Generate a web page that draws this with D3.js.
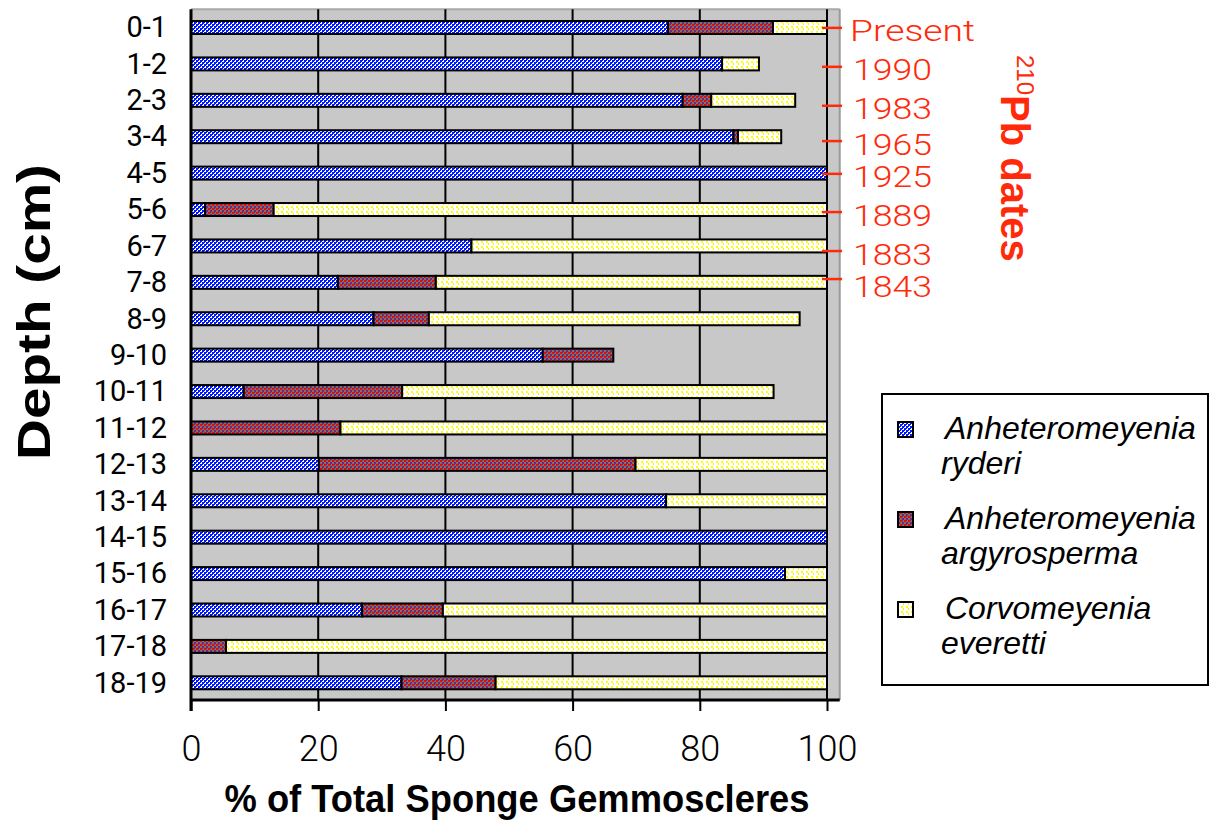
<!DOCTYPE html>
<html>
<head>
<meta charset="utf-8">
<script src="https://cdn.jsdelivr.net/npm/d3@7"></script>
<style>
  html, body { margin: 0; padding: 0; background: #ffffff; }
  svg { display: block; }
</style>
</head>
<body>
<svg id="chart" width="1210" height="825"></svg>
<script>
// Core depth intervals (cm)
const depths = ["0-1","1-2","2-3","3-4","4-5","5-6","6-7","7-8","8-9","9-10",
                "10-11","11-12","12-13","13-14","14-15","15-16","16-17","17-18","18-19"];

// % of total sponge gemmoscleres per species
const ryderi       = [75, 83.5, 77.3, 85.3, 100, 2.2, 44.1, 23.1, 28.7, 55.3, 8.3, 0, 20.1, 74.7, 100, 93.4, 26.9, 0, 33.1];
const argyrosperma = [16.5, 0, 4.5, 0.7, 0, 10.8, 0, 15.4, 8.7, 11.1, 24.9, 23.5, 49.8, 0, 0, 0, 12.7, 5.5, 14.8];
const everetti     = [8.5, 5.8, 13.2, 6.8, 0, 87, 55.9, 61.5, 58.3, 0, 58.4, 76.5, 30.1, 25.3, 0, 6.6, 60.4, 94.5, 52.1];

// Species names for the legend
const speciesKeys = ["ryderi", "argyrosperma", "everetti"];
const speciesGenus = ["Anheteromeyenia", "Anheteromeyenia", "Corvomeyenia"];
const speciesEpithet = ["ryderi", "argyrosperma", "everetti"];

// 210Pb dates and their position along the depth rows
const dateLabels = ["Present", "1990", "1983", "1965", "1925", "1889", "1883", "1843"];
const datePos    = [0.01, 1.08, 2.15, 3.12, 4.02, 5.07, 6.14, 6.91];

// Axis ticks
const xTicks = [0, 20, 40, 60, 80, 100];

const table = depths.map((d, i) => ({
  depth: d,
  ryderi: ryderi[i],
  argyrosperma: argyrosperma[i],
  everetti: everetti[i]
}));

const svg = d3.select("#chart");
const defs = svg.append("defs");

// Fill patterns for the three species
function makePattern(id, w, h, bg, cells) {
  const p = defs.append("pattern").attr("id", id)
    .attr("patternUnits", "userSpaceOnUse").attr("width", w).attr("height", h);
  p.append("rect").attr("width", w).attr("height", h).attr("fill", bg);
  cells.forEach(c => p.append("rect")
    .attr("x", c[0]).attr("y", c[1]).attr("width", c[2]).attr("height", c[3]).attr("fill", c[4]));
}
makePattern("pat-ryderi", 4, 4, "#ffffff", [
  [0, 0, 2, 2, "#0018ff"], [2, 2, 2, 2, "#0018ff"], [2, 0, 1, 1, "#0018ff"], [0, 2, 1, 1, "#0018ff"]
]);
makePattern("pat-argyrosperma", 4, 4, "#747474", [
  [0, 0, 2, 2, "#e80808"], [2, 2, 2, 2, "#7a1f7a"], [2, 0, 1, 1, "#a01848"]
]);
makePattern("pat-everetti", 5, 5, "#ffffff", [
  [1, 1, 2, 2, "#ffff00"], [3, 3, 1, 2, "#fff000"]
]);
const fillFor = k => `url(#pat-${k})`;

// Scales
const x = d3.scaleLinear().domain([0, 100]).range([191, 827]);
const y = d3.scalePoint().domain(depths).range([9.3, 701]).padding(0.5);
const rowScale = d3.scaleLinear().domain([0, depths.length - 1])
  .range([y(depths[0]), y(depths[depths.length - 1])]);
const barH = 13;
const plotTop = 9.3, plotBottom = 700, plotRight = x(102);

// Plot background
svg.append("rect")
  .attr("x", x(0)).attr("y", plotTop)
  .attr("width", plotRight - x(0)).attr("height", plotBottom - plotTop)
  .attr("fill", "#c8c8c8");
svg.append("line")
  .attr("x1", x(0)).attr("x2", plotRight).attr("y1", plotTop).attr("y2", plotTop)
  .attr("stroke", "#a8a8a8").attr("stroke-width", 2);
svg.append("line")
  .attr("x1", plotRight).attr("x2", plotRight).attr("y1", plotTop).attr("y2", plotBottom)
  .attr("stroke", "#9a9a9a").attr("stroke-width", 2);

// Vertical gridlines
svg.append("g").selectAll("line")
  .data(xTicks.filter(t => t > 0))
  .join("line")
  .attr("x1", d => x(d)).attr("x2", d => x(d))
  .attr("y1", plotTop).attr("y2", plotBottom)
  .attr("stroke", "#000").attr("stroke-width", 2);

// Stacked bars
const stack = d3.stack().keys(speciesKeys)(table);
svg.append("g").selectAll("g")
  .data(stack)
  .join("g")
  .attr("fill", d => fillFor(d.key))
  .selectAll("rect")
  .data(d => d.filter(s => s[1] - s[0] > 0))
  .join("rect")
  .attr("x", d => x(d[0]))
  .attr("width", d => x(d[1]) - x(d[0]))
  .attr("y", d => y(d.data.depth) - barH / 2)
  .attr("height", barH)
  .attr("stroke", "#000")
  .attr("stroke-width", 2);

// Axis lines
svg.append("line")
  .attr("x1", x(0)).attr("x2", plotRight).attr("y1", plotBottom).attr("y2", plotBottom)
  .attr("stroke", "#000").attr("stroke-width", 3);
svg.append("line")
  .attr("x1", x(0)).attr("x2", x(0)).attr("y1", plotTop).attr("y2", plotBottom + 11)
  .attr("stroke", "#000").attr("stroke-width", 3);

// Bottom axis
const xAxis = svg.append("g")
  .attr("transform", `translate(0,${plotBottom})`)
  .call(d3.axisBottom(x).tickValues(xTicks).tickSize(11).tickPadding(24));
xAxis.select(".domain").remove();
xAxis.selectAll(".tick line").attr("stroke", "#000").attr("stroke-width", 2);
xAxis.selectAll(".tick text")
  .attr("fill", "#000")
  .style("font-family", "Roboto, 'Liberation Sans', sans-serif")
  .style("font-weight", 300)
  .style("font-size", "36px");

// Left axis with depth labels
const yAxis = svg.append("g")
  .attr("transform", `translate(${x(0)},0)`)
  .call(d3.axisLeft(y).tickSize(0).tickPadding(24));
yAxis.select(".domain").remove();
yAxis.selectAll(".tick text")
  .attr("fill", "#000")
  .style("font-family", "Roboto, 'Liberation Sans', sans-serif")
  .style("font-size", "29px");

// Axis titles
svg.append("text")
  .attr("x", 517).attr("y", 812)
  .attr("text-anchor", "middle")
  .attr("textLength", 585).attr("lengthAdjust", "spacingAndGlyphs")
  .style("font-family", "'Liberation Sans', Arial, sans-serif")
  .style("font-weight", "bold")
  .style("font-size", "38px")
  .text("% of Total Sponge Gemmoscleres");

svg.append("text")
  .attr("transform", "translate(50,312) rotate(-90)")
  .attr("text-anchor", "middle")
  .attr("textLength", 296).attr("lengthAdjust", "spacingAndGlyphs")
  .style("font-family", "'Liberation Sans', Arial, sans-serif")
  .style("font-weight", "bold")
  .style("font-size", "46px")
  .text("Depth (cm)");

// 210Pb dates on the right
const red = "#ff2a0a";
const dates = svg.append("g");
const tickY = datePos.map(p => rowScale(p));
// label positions: follow the ticks, pushed down where two would collide
const labelY = [];
tickY.forEach((t, i) => {
  const want = t + 3;
  labelY.push(i === 0 ? want : Math.max(want, labelY[i - 1] + 32));
});
dates.selectAll("line")
  .data(dateLabels)
  .join("line")
  .attr("x1", 822).attr("x2", 842)
  .attr("y1", (d, i) => tickY[i])
  .attr("y2", (d, i) => tickY[i])
  .attr("stroke", red).attr("stroke-width", 2.5);
dates.selectAll("text")
  .data(dateLabels)
  .join("text")
  .attr("x", (d, i) => i === 0 ? 850 : 853)
  .attr("y", (d, i) => labelY[i])
  .attr("dominant-baseline", "central")
  .attr("textLength", (d, i) => i === 0 ? 125 : 79)
  .attr("lengthAdjust", "spacingAndGlyphs")
  .attr("fill", red)
  .style("font-family", "Roboto, 'Liberation Sans', sans-serif")
  .style("font-weight", 300)
  .style("font-size", "30px")
  .text(d => d);

const pbTitle = svg.append("text")
  .attr("transform", "translate(1001,55) rotate(90)")
  .attr("fill", red)
  .style("font-family", "'Liberation Sans', Arial, sans-serif");
pbTitle.append("tspan")
  .attr("dy", -16)
  .style("font-size", "24px")
  .text("210");
pbTitle.append("tspan")
  .attr("dy", 16)
  .style("font-size", "40px")
  .style("font-weight", "bold")
  .text("Pb dates");

// Legend
const legend = svg.append("g");
legend.append("rect")
  .attr("x", 882).attr("y", 394).attr("width", 326).attr("height", 291)
  .attr("fill", "#fff").attr("stroke", "#000").attr("stroke-width", 2);
const legendRowY = [430, 520, 610];
const items = legend.selectAll("g.item")
  .data(speciesKeys)
  .join("g").attr("class", "item");
items.append("rect")
  .attr("x", 898).attr("y", (d, i) => legendRowY[i] - 8)
  .attr("width", 15).attr("height", 15)
  .attr("fill", d => fillFor(d))
  .attr("stroke", "#000").attr("stroke-width", 2);
items.append("text")
  .attr("x", 945).attr("y", (d, i) => legendRowY[i] + 9)
  .style("font-family", "'Liberation Sans', Arial, sans-serif")
  .style("font-style", "italic")
  .style("font-size", "32px")
  .text((d, i) => speciesGenus[i]);
items.append("text")
  .attr("x", 941).attr("y", (d, i) => legendRowY[i] + 44)
  .style("font-family", "'Liberation Sans', Arial, sans-serif")
  .style("font-style", "italic")
  .style("font-size", "32px")
  .text((d, i) => speciesEpithet[i]);
</script>
</body>
</html>
